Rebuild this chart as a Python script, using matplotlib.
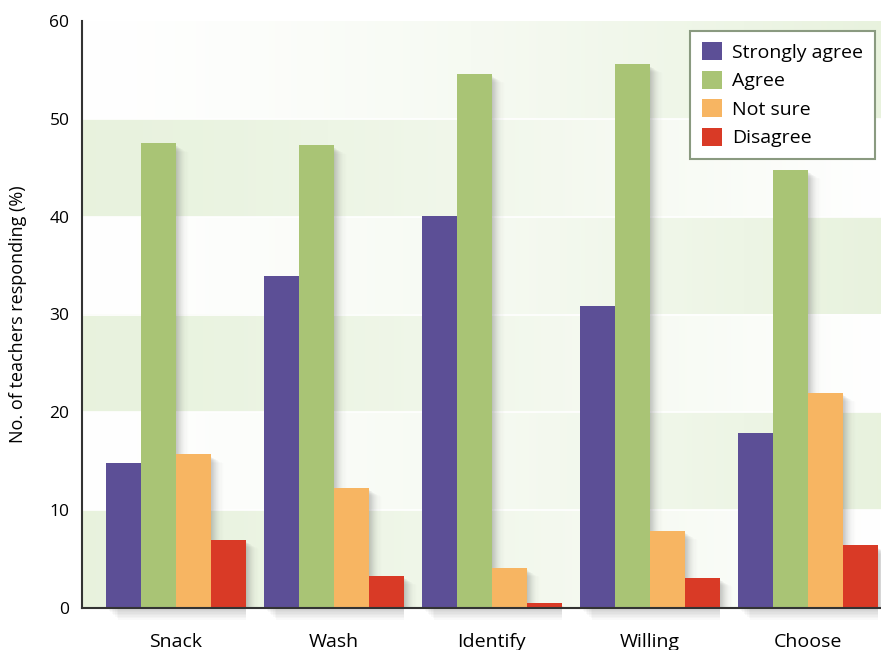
import numpy as np
import matplotlib
matplotlib.use("Agg")
import matplotlib.pyplot as plt
from matplotlib.patches import Rectangle, Patch

plt.rcParams['font.family'] = ['Open Sans', 'DejaVu Sans']

categories = ["Snack", "Wash", "Identify", "Willing", "Choose"]
series_names = ["Strongly agree", "Agree", "Not sure", "Disagree"]
strongly_agree = [14.8, 33.9, 40.1, 30.9, 17.9]
agree = [47.5, 47.3, 54.6, 55.6, 44.8]
not_sure = [15.7, 12.3, 4.1, 7.9, 22.0]
disagree = [7.0, 3.3, 0.5, 3.1, 6.4]
yticks = [0, 10, 20, 30, 40, 50, 60]

colors = ["#5c4f96", "#a9c475", "#f7b562", "#d93a26"]
series = [strongly_agree, agree, not_sure, disagree]

fig = plt.figure(figsize=(8.81, 6.5), dpi=100)
ax = fig.add_axes([82/881, 42/650, 1 - 82/881, (608-21)/650])

xmin, xmax = -0.592, 4.465
ax.set_xlim(xmin, xmax)
ax.set_ylim(0, 60)

# background bands with horizontal gradients
green = np.array([0.91, 0.95, 0.87])
white = np.array([1.0, 1.0, 1.0])
t = np.linspace(0, 1, 300)
for i in range(6):
    if i % 2 == 0:
        g = green[None, :] + (white - green)[None, :] * (t[:, None] ** 1.3)
    else:
        g = white[None, :] + (green - white)[None, :] * (t[:, None] ** 1.3)
    img = g[None, :, :]
    ax.imshow(img, extent=[xmin, xmax, 10*i, 10*(i+1)], aspect='auto', zorder=0, interpolation='bilinear')
for v in yticks[1:-1]:
    ax.axhline(v, color='white', lw=1.2, zorder=0.5)

bw = 35/158
x = np.arange(len(categories))
offsets = (np.arange(4) - 1.5) * bw

# soft shadows
nsh = 12
for k, vals in enumerate(series):
    for xi, v in zip(x, vals):
        left = xi + offsets[k] - bw/2
        for j in range(1, nsh + 1):
            a = 0.05 * (1 - (j - 1) / nsh)
            ax.add_patch(Rectangle((left + j*0.007, 0), bw, max(v - 0.2 - j*0.06, 0),
                                   facecolor='#505050', edgecolor='none', alpha=a, zorder=1))
# shadow under the axis per group
for xi in x:
    for j in range(1, 9):
        ax.add_patch(Rectangle((xi - 2*bw + j*0.01, -j*0.15), 4*bw - j*0.01, j*0.15,
                               facecolor='#555555', edgecolor='none', alpha=0.035,
                               zorder=1, clip_on=False))

for k, vals in enumerate(series):
    ax.bar(x + offsets[k], vals, width=bw, color=colors[k], zorder=2,
           label=series_names[k], linewidth=0)

ax.set_yticks(yticks)
ax.set_yticklabels([str(v) for v in yticks], fontsize=12.5)
ax.set_xticks(x)
ax.set_xticklabels(categories, fontsize=14)
ax.tick_params(axis='both', length=0)
ax.tick_params(axis='y', pad=9)
ax.tick_params(axis='x', pad=18)
for s in ['top', 'right']:
    ax.spines[s].set_visible(False)
for s in ['left', 'bottom']:
    ax.spines[s].set_color('#333333')
    ax.spines[s].set_linewidth(1.5)
    ax.spines[s].set_zorder(5)

ax.set_ylabel("No. of teachers responding (%)", fontsize=13, labelpad=16)

handles = [Patch(facecolor=c, edgecolor='none') for c in colors]
leg = ax.legend(handles, series_names, loc='upper right', bbox_to_anchor=(0.997, 0.99),
                fontsize=14, frameon=True, fancybox=False, framealpha=1,
                handlelength=1.05, handleheight=1.05, handletextpad=0.5,
                labelspacing=0.45, borderpad=0.6, borderaxespad=0.2)
leg.get_frame().set_edgecolor('#8a9a80')
leg.get_frame().set_linewidth(1.5)
leg.set_zorder(10)

fig.savefig("out.png", dpi=100)
